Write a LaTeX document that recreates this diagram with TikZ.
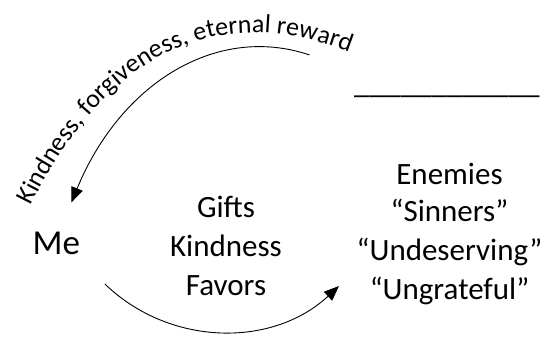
\documentclass[tikz,border=0pt]{standalone}
\usepackage{fontspec}
\setmainfont{Carlito}
\usetikzlibrary{arrows.meta,decorations.text}
\begin{document}
\begin{tikzpicture}[x=1pt,y=1pt,
  big/.style={font=\fontsize{35}{42}\selectfont, inner sep=0pt, anchor=base},
  txt/.style={font=\fontsize{31}{38}\selectfont, inner sep=0pt, anchor=base},
  conn/.style={line width=0.9pt, -{Triangle[length=15pt,width=12pt]}}]
\useasboundingbox (0,0) rectangle (548,338);
% left
\node[big] (me) at (56.4,84) {Me};
% middle
\node[txt] (g1) at (226,121) {Gifts};
\node[txt] (g2) at (226,82) {Kindness};
\node[txt] (g3) at (226,43) {Favors};
% right
\node[txt] (e1) at (449.5,154) {Enemies};
\node[txt] (e2) at (449.5,117) {“Sinners”};
\node[txt] (e3) at (449.5,78) {“Undeserving”};
\node[txt] (e4) at (449.5,39) {“Ungrateful”};
\node[txt, anchor=base west] (blank) at (354,244) {\_\_\_\_\_\_\_\_\_\_\_\_};
% arcs
\coordinate (u1) at ({260+220*cos(77)},{-29.7+321*sin(77)});
\draw[conn] (u1) arc[start angle=77, end angle=149, x radius=220pt, y radius=321pt];
\coordinate (l1) at ({223+170*cos(226)},{176.3+170*sin(226)});
\draw[conn] (l1) arc[start angle=226, end angle=313, radius=170pt];
% curved label
\path[decorate, decoration={text along path, text align=left,
  text={|\fontsize{26}{31}\selectfont|Kindness, forgiveness, eternal reward}}]
  (31,132) .. controls (100,272) and (210,352) .. (372,276);
\end{tikzpicture}
\end{document}
